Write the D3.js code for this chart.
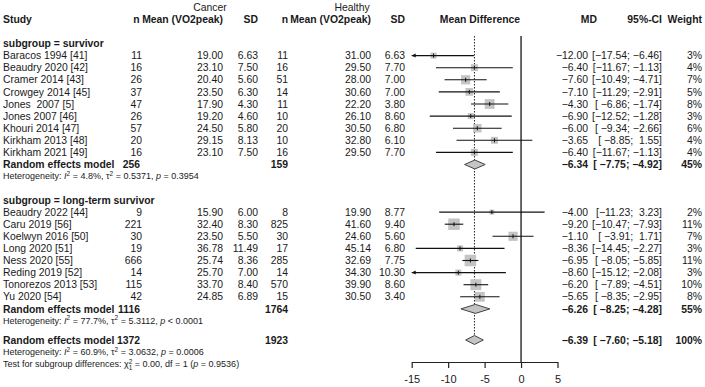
<!DOCTYPE html>
<html><head><meta charset="utf-8">
<script src="https://cdn.jsdelivr.net/npm/d3@7"></script>
<style>
body{margin:0;background:#fff}
svg{display:block}
text{font-family:"Liberation Sans",Arial,sans-serif;fill:#1a1a1a;white-space:pre}
</style>
</head><body><svg id="c" width="705" height="387"></svg>
<script>
// ---------- data ----------
const studyLabels = ["Baracos 1994 [41]","Beaudry 2020 [42]","Cramer 2014 [43]","Crowgey 2014 [45]","Jones  2007 [5]","Jones 2007 [46]","Khouri 2014 [47]","Kirkham 2013 [48]","Kirkham 2021 [49]",
  "Beaudry 2022 [44]","Caru 2019 [56]","Koelwyn 2016 [50]","Long 2020 [51]","Ness 2020 [55]","Reding 2019 [52]","Tonorezos 2013 [53]","Yu 2020 [54]"];
const studyGroup = [0,0,0,0,0,0,0,0,0, 1,1,1,1,1,1,1,1];
const cancerN = [11,16,26,37,47,26,57,20,16, 9,221,30,19,666,14,115,42];
const cancerMean = [19.00,23.10,20.40,23.50,17.90,19.20,24.50,29.15,23.10, 15.90,32.40,23.50,36.78,25.74,25.70,33.70,24.85];
const cancerSD = [6.63,7.50,5.60,6.30,4.30,4.60,5.80,8.13,7.50, 6.00,8.30,5.50,11.49,8.36,7.00,8.40,6.89];
const healthyN = [11,16,51,14,11,10,20,10,16, 8,825,30,17,285,14,570,15];
const healthyMean = [31.00,29.50,28.00,30.60,22.20,26.10,30.50,32.80,29.50, 19.90,41.60,24.60,45.14,32.69,34.30,39.90,30.50];
const healthySD = [6.63,7.70,7.00,7.00,3.80,8.60,6.80,6.10,7.70, 8.77,9.40,5.60,6.80,7.75,10.30,8.60,3.40];
const md = [-12.00,-6.40,-7.60,-7.10,-4.30,-6.90,-6.00,-3.65,-6.40, -4.00,-9.20,-1.10,-8.36,-6.95,-8.60,-6.20,-5.65];
const ciLow = [-17.54,-11.67,-10.49,-11.29,-6.86,-12.52,-9.34,-8.85,-11.67, -11.23,-10.47,-3.91,-14.45,-8.05,-15.12,-7.89,-8.35];
const ciHigh = [-6.46,-1.13,-4.71,-2.91,-1.74,-1.28,-2.66,1.55,-1.13, 3.23,-7.93,1.71,-2.27,-5.85,-2.08,-4.51,-2.95];
const weight = [3,4,7,5,8,3,6,4,4, 2,11,7,3,11,3,10,8];

const groupNames = ["subgroup = survivor","subgroup = long-term survivor"];
const summaryCancerN = [256,1116,1372];
const summaryHealthyN = [159,1764,1923];
const summaryMD = [-6.34,-6.26,-6.39];
const summaryLow = [-7.75,-8.25,-7.60];
const summaryHigh = [-4.92,-4.28,-5.18];
const summaryWeight = [45,55,100];
const hetI2 = ["4.8%","77.7%","60.9%"];
const hetTau2 = ["0.5371","5.3112","3.0632"];
const hetP = ["= 0.3954","< 0.0001","= 0.0006"];
const testText = {chi2:"0.00", df:"1", p:"0.9536"};
const xTicks = [-15,-10,-5,0,5];

// ---------- layout ----------
const svg = d3.select("#c");
const FS = 10.4, FSs = 9;
const x = d3.scaleLinear().domain([-15,5]).range([411.7,557.5]);
const STEP = 12.1, TOP = 43.5, GAP_GROUP = 23.4, GAP_OVERALL = 19;
const axisY = 362, plotTop = 36;
const col = {study:3, cn:142, cmN:140, cm:223, cs:258, hn:288, hm:371, hs:405, md:588, ci:662, w:702};
const f2 = d3.format(".2f");

// build row list with running vertical position
const rows = [];
let yy = TOP;
[0,1].forEach(g=>{
  if(g===1) yy += GAP_GROUP - STEP;
  rows.push({type:"group", g, y:yy}); yy+=STEP;
  studyLabels.forEach((s,i)=>{ if(studyGroup[i]===g){ rows.push({type:"study", i, y:yy}); yy+=STEP; } });
  rows.push({type:"summary", k:g, y:yy}); yy+=STEP;
  rows.push({type:"het", k:g, y:yy-0.3}); yy+=STEP;
});
yy += GAP_OVERALL - STEP;
rows.push({type:"summary", k:2, y:yy}); yy+=STEP;
rows.push({type:"het", k:2, y:yy}); yy+=STEP;
rows.push({type:"test", y:yy});

function txt(xp, yp, s, anchor, opts={}){
  return svg.append("text").attr("x",xp).attr("y",yp).attr("dy","0.35em")
    .attr("text-anchor",anchor).attr("font-size",opts.size||FS)
    .attr("font-weight",opts.bold?"bold":"normal").text(s);
}
const pad = (s,n)=> (" ".repeat(Math.max(0,n-s.length)))+s;
function ciStr(lo,hi){ return "[" + pad(f2(lo),6) + "; " + pad(f2(hi),5) + "]"; }

// headers
txt(210,7,"Cancer","middle");
txt(352,7,"Healthy","middle");
const hy = 19;
txt(col.study,hy,"Study","start",{bold:true});
txt(139.5,hy,"n","end",{bold:true});
txt(col.cm,hy,"Mean (VO2peak)","end",{bold:true});
txt(col.cs,hy,"SD","end",{bold:true});
txt(col.hn,hy,"n","end",{bold:true});
txt(col.hm,hy,"Mean (VO2peak)","end",{bold:true});
txt(col.hs,hy,"SD","end",{bold:true});
txt(480,hy,"Mean Difference","middle",{bold:true});
txt(597,hy,"MD","end",{bold:true});
txt(col.ci,hy,"95%-CI","end",{bold:true});
txt(col.w,hy,"Weight","end",{bold:true});

// reference lines
svg.append("line").attr("x1",x(0)).attr("x2",x(0)).attr("y1",plotTop).attr("y2",axisY)
  .attr("stroke","#000").attr("stroke-width",1.2);
const overallRow = rows.find(d=>d.type==="summary"&&d.k===2);
svg.append("line").attr("x1",x(summaryMD[2])).attr("x2",x(summaryMD[2]))
  .attr("y1",plotTop).attr("y2",overallRow.y-4)
  .attr("stroke","#222").attr("stroke-width",1).attr("stroke-dasharray","1.5,1.5");

// axis
const axis = d3.axisBottom(x).tickValues(xTicks).tickSize(6).tickSizeOuter(0).tickFormat(d3.format("d"));
const ag = svg.append("g").attr("transform",`translate(0,${axisY})`).call(axis);
ag.select(".domain").attr("stroke","#222").attr("stroke-width",1.2);
ag.selectAll(".tick line").attr("stroke","#222").attr("stroke-width",1.2);
ag.selectAll(".tick text").attr("font-size",11).attr("fill","#1a1a1a").attr("dy","1.05em");
ag.selectAll(".tick text").text(d=> d<0 ? "-"+Math.abs(d) : d);

const sq = d3.scaleSqrt().domain([0,11]).range([0,11.5]);

rows.forEach(row=>{
  const yy = row.y;
  if(row.type==="group"){
    txt(col.study,yy,groupNames[row.g],"start",{bold:true});
  } else if(row.type==="study"){
    const i=row.i;
    txt(col.study,yy,studyLabels[i],"start");
    txt(col.cn,yy,String(cancerN[i]),"end");
    txt(col.cm,yy,f2(cancerMean[i]),"end");
    txt(col.cs,yy,f2(cancerSD[i]),"end");
    txt(col.hn,yy,String(healthyN[i]),"end");
    txt(col.hm,yy,f2(healthyMean[i]),"end");
    txt(col.hs,yy,f2(healthySD[i]),"end");
    txt(col.md,yy,f2(md[i]),"end");
    txt(col.ci,yy,ciStr(ciLow[i],ciHigh[i]),"end");
    txt(col.w,yy,weight[i]+"%","end");
    const s = sq(weight[i]);
    svg.append("rect").attr("x",x(md[i])-s/2).attr("y",yy-s/2).attr("width",s).attr("height",s)
      .attr("fill","#c4c4c4");
    const lo = Math.max(ciLow[i],-15), hi = Math.min(ciHigh[i],5);
    svg.append("line").attr("x1",x(lo)).attr("x2",x(hi)).attr("y1",yy).attr("y2",yy)
      .attr("stroke","#111").attr("stroke-width",1.1);
    if(ciLow[i] < -15){
      const ax = x(-15);
      svg.append("path").attr("d",`M${ax},${yy} L${ax+4},${yy-2} L${ax+4},${yy+2} Z`).attr("fill","#111");
    }
    svg.append("line").attr("x1",x(md[i])).attr("x2",x(md[i])).attr("y1",yy-2).attr("y2",yy+2)
      .attr("stroke","#111").attr("stroke-width",1);
  } else if(row.type==="summary"){
    const k=row.k;
    txt(col.study,yy,"Random effects model","start",{bold:true});
    txt(col.cmN,yy,String(summaryCancerN[k]),"end",{bold:true});
    txt(col.hn,yy,String(summaryHealthyN[k]),"end",{bold:true});
    txt(col.md,yy,f2(summaryMD[k]),"end",{bold:true});
    txt(col.ci,yy,ciStr(summaryLow[k],summaryHigh[k]),"end",{bold:true});
    txt(col.w,yy,summaryWeight[k]+"%","end",{bold:true});
    const h=4.5;
    svg.append("path").attr("d",`M${x(summaryLow[k])},${yy} L${x(summaryMD[k])},${yy-h} L${x(summaryHigh[k])},${yy} L${x(summaryMD[k])},${yy+h} Z`)
      .attr("fill","#c4c4c4").attr("stroke","#444").attr("stroke-width",1);
  } else if(row.type==="het"){
    const k=row.k;
    const t = txt(col.study,yy,"","start",{size:FSs});
    t.append("tspan").text("Heterogeneity: ");
    t.append("tspan").attr("font-style","italic").text("I");
    t.append("tspan").attr("font-size",6.5).attr("dy",-3.5).text("2");
    t.append("tspan").attr("dy",3.5).text(" = "+hetI2[k]+", τ");
    t.append("tspan").attr("font-size",6.5).attr("dy",-3.5).text("2");
    t.append("tspan").attr("dy",3.5).text(" = "+hetTau2[k]+", ");
    t.append("tspan").attr("font-style","italic").text("p");
    t.append("tspan").text(" "+hetP[k]);
  } else if(row.type==="test"){
    const t = txt(col.study,yy,"","start",{size:FSs});
    t.append("tspan").text("Test for subgroup differences: χ");
    t.append("tspan").attr("font-size",6.5).attr("dy",-3.5).text("2");
    t.append("tspan").attr("font-size",6.5).attr("dx",-3.6).attr("dy",6.5).text(testText.df);
    t.append("tspan").attr("dy",-3).text(" = "+testText.chi2+", df = "+testText.df+" (");
    t.append("tspan").attr("font-style","italic").text("p");
    t.append("tspan").text(" = "+testText.p+")");
  }
});
</script>
</body></html>
